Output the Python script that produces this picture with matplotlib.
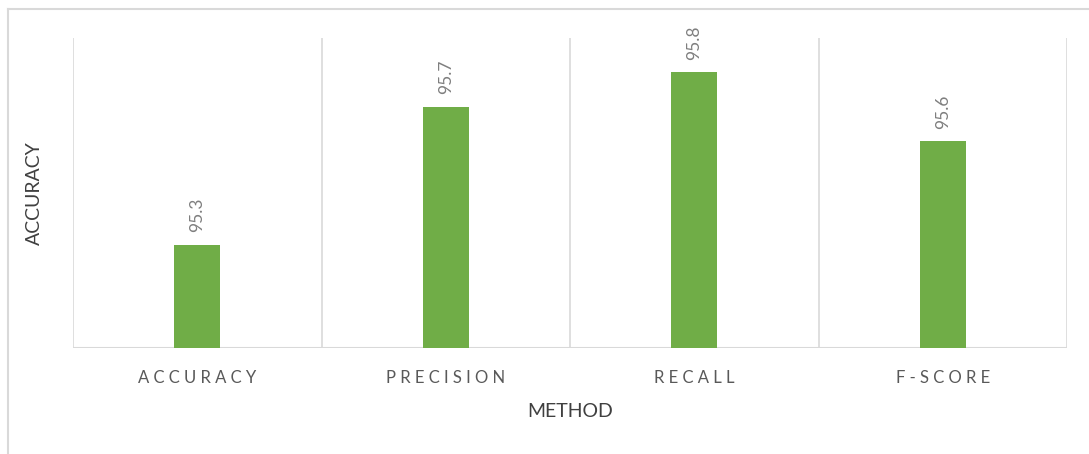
import matplotlib
matplotlib.use("Agg")
import matplotlib.pyplot as plt
from matplotlib.lines import Line2D

categories = ["ACCURACY", "PRECISION", "RECALL", "F-SCORE"]
values = [95.3, 95.7, 95.8, 95.6]
value_labels = ["95.3", "95.7", "95.8", "95.6"]

plt.rcParams['font.family'] = ['Lato', 'DejaVu Sans']

fig = plt.figure(figsize=(10.89, 4.54), dpi=100)
ax = fig.add_axes([73/1089, 1-348/454, (1067-73)/1089, (348-38)/454])

x = list(range(len(categories)))
bars = ax.bar(x, values, width=0.185, color="#70AD47", bottom=0, zorder=3)
ax.set_ylim(95.0, 95.9)
ax.set_xlim(-0.5, len(categories) - 0.5)

for xi, v, lab in zip(x, values, value_labels):
    ax.annotate(lab, (xi, v), xytext=(0, 9), textcoords="offset points",
                rotation=90, ha="center", va="bottom", fontsize=12.5, color="#7f7f7f")

# category separators (vertical gridlines)
for b in [i - 0.5 for i in range(len(categories) + 1)]:
    ax.axvline(b, color="#d9d9d9", lw=1.2, zorder=1)

for s in ax.spines.values():
    s.set_visible(False)
ax.axhline(95.0, color="#d9d9d9", lw=1.5, zorder=2)

ax.set_yticks([])
ax.set_xticks(x)
ax.set_xticklabels([" ".join(c) for c in categories], fontsize=12, color="#595959")
ax.tick_params(axis="x", length=0, pad=16)

ax.set_ylabel("ACCURACY", fontsize=14, color="#404040", labelpad=22)
ax.set_xlabel("METHOD", fontsize=14, color="#404040", labelpad=12)

# outer chart border (partially visible)
fig.add_artist(Line2D([7.5/1089, 7.5/1089], [0, 1-9/454], transform=fig.transFigure, color="#d9d9d9", lw=1.5))
fig.add_artist(Line2D([7.5/1089, 1], [1-9/454, 1-9/454], transform=fig.transFigure, color="#d9d9d9", lw=1.5))

fig.savefig("out.png", dpi=100, facecolor="white")
